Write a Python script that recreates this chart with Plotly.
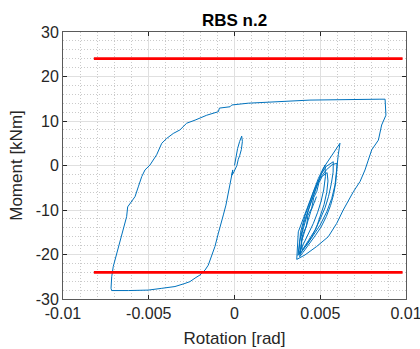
import plotly.graph_objects as go

# ---------------- data ----------------
rotation = [
    0.00000, 0.00008, 0.00018, 0.00030, 0.00042, 0.00046, 0.00040, 0.00030, 0.00022, 0.00014,
    0.00004, -0.00008, -0.00016, -0.00010, -0.00020, -0.00036, -0.00050, -0.00065, -0.00075, -0.00085,
    -0.00094, -0.00114, -0.00133, -0.00153, -0.00172, -0.00201, -0.00230, -0.00260, -0.00289, -0.00347,
    -0.00424, -0.00503, -0.00619, -0.00716, -0.00720, -0.00716, -0.00707, -0.00687, -0.00668, -0.00648,
    -0.00629, -0.00623, -0.00609, -0.00580, -0.00561, -0.00541, -0.00522, -0.00493, -0.00454, -0.00424,
    -0.00395, -0.00357, -0.00318, -0.00279, -0.00230, -0.00172, -0.00162, -0.00094, -0.00088, -0.00026,
    -0.00016, 0.00080, 0.00440, 0.00848, 0.00878, 0.00883, 0.00858, 0.00839, 0.00800, 0.00780,
    0.00761, 0.00732, 0.00693, 0.00634, 0.00596, 0.00547, 0.00479, 0.00411, 0.00363,
    # cycle 1
    0.00372, 0.00401, 0.00430, 0.00460, 0.00489, 0.00518, 0.00557, 0.00596, 0.00615,
    0.00605, 0.00596, 0.00586, 0.00567, 0.00538, 0.00499, 0.00460, 0.00421, 0.00370,
    # cycle 2
    0.00380, 0.00405, 0.00432, 0.00455, 0.00478, 0.00505, 0.00535, 0.00576,
    0.00575, 0.00565, 0.00548, 0.00528, 0.00500, 0.00470, 0.00432, 0.00395,
    # cycle 3
    0.00388, 0.00415, 0.00440, 0.00462, 0.00485, 0.00510, 0.00528,
    0.00530, 0.00520, 0.00505, 0.00485, 0.00460, 0.00430, 0.00400, 0.00375,
    # cycle 4
    0.00385, 0.00412, 0.00440, 0.00468, 0.00500, 0.00535, 0.00570, 0.00598,
    0.00596, 0.00590, 0.00578, 0.00560, 0.00535, 0.00505, 0.00470, 0.00435, 0.00400, 0.00380,
    # cycle 5
    0.00392, 0.00398, 0.00420, 0.00428, 0.00450, 0.00462, 0.00480, 0.00492, 0.00512, 0.00540,
    0.00545, 0.00538, 0.00522, 0.00500, 0.00478, 0.00452, 0.00425, 0.00398, 0.00382,
    # cycle 6 (partial)
    0.00390, 0.00410, 0.00425, 0.00445, 0.00462, 0.00478,
]
moment = [
    0.0, 1.8, 3.8, 5.4, 6.6, 5.4, 3.6, 2.2, 1.4, 0.0,
    -1.0, -1.8, -2.2, -1.0, -3.0, -6.6, -8.9, -11.1, -12.4, -13.6,
    -15.2, -18.2, -20.5, -22.4, -23.5, -24.6, -25.3, -26.1, -26.5, -27.2,
    -27.6, -28.0, -28.1, -28.1, -27.6, -25.0, -22.7, -19.7, -16.7, -14.1,
    -11.5, -9.3, -8.5, -7.0, -4.8, -2.5, -1.0, 0.1, 2.4, 5.0,
    6.1, 7.2, 8.0, 9.5, 10.2, 11.1, 11.3, 12.1, 12.9, 13.2,
    13.6, 14.0, 14.7, 14.9, 14.9, 11.3, 9.1, 5.7, 3.5, 1.2,
    -1.0, -3.6, -5.9, -10.0, -13.0, -16.0, -18.2, -20.1, -21.1,
    # cycle 1
    -14.9, -11.9, -8.9, -5.9, -2.9, -0.6, 1.6, 3.9, 5.0,
    2.4, -1.4, -4.4, -7.4, -10.4, -13.4, -15.6, -17.9, -20.2,
    # cycle 2
    -17.0, -12.8, -9.8, -7.2, -4.8, -2.0, -0.2, 0.85,
    -1.5, -4.0, -7.0, -9.5, -12.0, -14.5, -16.8, -19.0,
    # cycle 3
    -16.0, -12.0, -8.8, -6.5, -3.8, -1.5, 0.1,
    -2.5, -5.5, -8.0, -10.5, -13.0, -15.5, -18.0, -19.8,
    # cycle 4
    -15.0, -11.2, -8.2, -5.2, -2.8, -1.0, 0.2, 0.5,
    -1.4, -3.8, -6.5, -9.0, -11.5, -13.8, -15.8, -17.8, -19.5, -20.5,
    # cycle 5
    -17.8, -15.5, -13.6, -11.2, -9.6, -7.2, -5.8, -3.9, -2.4, -1.6,
    -3.5, -6.0, -8.8, -11.6, -13.9, -15.9, -17.6, -19.2, -20.0,
    # cycle 6 (partial)
    -17.2, -14.6, -12.5, -10.3, -8.6, -7.0,
]

limit_rotation = [-0.0082, 0.0098]
limit_upper = [24, 24]
limit_lower = [-24, -24]

x_ticks = [-0.01, -0.005, 0, 0.005, 0.01]
x_ticklabels = ["-0.01", "-0.005", "0", "0.005", "0.01"]
y_ticks = [-30, -20, -10, 0, 10, 20, 30]
y_ticklabels = ["-30", "-20", "-10", "0", "10", "20", "30"]

title_text = "RBS n.2"
x_label = "Rotation [rad]"
y_label = "Moment [kNm]"

# ---------------- figure ----------------
FONT = "Liberation Sans, Arial, Helvetica, sans-serif"
AX = "#262626"
W, H = 420, 349

fig = go.Figure()
fig.add_trace(go.Scatter(x=rotation, y=moment, mode="lines",
                         line=dict(color="#0072BD", width=1)))
fig.add_trace(go.Scatter(x=limit_rotation, y=limit_upper, mode="lines",
                         line=dict(color="#FF0000", width=2.7)))
fig.add_trace(go.Scatter(x=limit_rotation, y=limit_lower, mode="lines",
                         line=dict(color="#FF0000", width=2.7)))

axis_common = dict(
    automargin=False, ticklabeloverflow="allow",
    ticks="inside", ticklen=4, tickcolor=AX, tickwidth=1,
    showline=True, linecolor="#5a5a5a", linewidth=1, mirror="ticks",
    showgrid=True, gridcolor="#e0e0e0", gridwidth=1,
    zeroline=False, tickfont=dict(family=FONT, size=16, color=AX),
)
minor_style = dict(showgrid=True, gridcolor="#cacaca", griddash="1px,2px", gridwidth=1)

fig.update_layout(
    width=W, height=H,
    margin=dict(l=63, r=14, t=32, b=50),
    paper_bgcolor="white", plot_bgcolor="white",
    showlegend=False,
    hovermode=False,
    title=dict(text="<b>" + title_text + "</b>", x=0.5, xref="paper", xanchor="center",
               y=1 - 20 / H, yref="container", yanchor="middle",
               font=dict(family=FONT, size=17, color="black")),
    xaxis=dict(range=[-0.01, 0.01], tickmode="array", tickvals=x_ticks, ticktext=x_ticklabels,
               minor=dict(dtick=0.001, tick0=-0.01, **minor_style),
               title=dict(text=x_label, font=dict(family=FONT, size=17, color=AX), standoff=10),
               **axis_common),
    yaxis=dict(range=[-30, 30], tickmode="array", tickvals=y_ticks, ticktext=y_ticklabels,
               minor=dict(dtick=2, tick0=-30, **minor_style),
               title=dict(text=y_label, font=dict(family=FONT, size=17, color=AX), standoff=8),
               **axis_common),
)

# remove the browser's default 8px body margin so the figure fills the window
fig.write_html("out.html",
               config={"displayModeBar": False, "staticPlot": True},
               post_script="document.body.style.margin='0';document.body.style.overflow='hidden';")
